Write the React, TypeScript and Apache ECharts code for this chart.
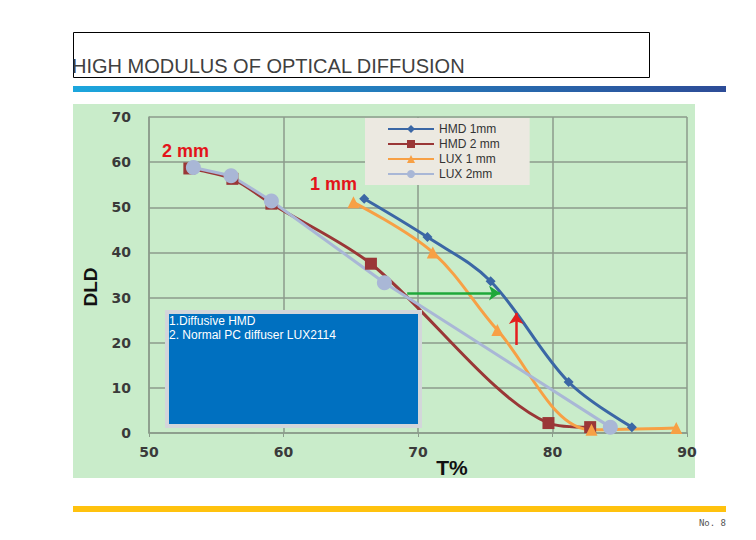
import * as echarts from "echarts"
import { useEffect, useRef } from "react"

// HMD / LUX diffuser curves: DLD against transmittance T%
const seriesNames = ["HMD 1mm", "HMD 2 mm", "LUX 1 mm", "LUX 2mm"]

const hmd1T = [66.0, 70.7, 75.4, 81.2, 85.9]
const hmd1Dld = [51.9, 43.4, 33.6, 11.3, 1.3]

const hmd2T = [53.0, 56.2, 59.1, 66.5, 79.7, 82.8]
const hmd2Dld = [58.6, 56.3, 50.8, 37.5, 2.2, 1.3]

const lux1T = [65.2, 71.1, 75.9, 82.9, 89.2]
const lux1Dld = [51.1, 40.0, 22.8, 0.7, 1.1]

const lux2T = [53.3, 56.1, 59.1, 67.5, 84.3]
const lux2Dld = [58.8, 57.0, 51.4, 33.3, 1.3]

const xTicks = { min: 50, max: 90, interval: 10 }
const yTicks = { min: 0, max: 70, interval: 10 }

// arrows between the 1 mm curves: [from, to] in data units
const greenArrow = [[69.2, 31.0], [76.1, 31.0]]
const redArrow = [[77.3, 19.5], [77.3, 26.6]]

const notes = ["1.Diffusive HMD", "2. Normal PC diffuser LUX2114"]

const zip = (xs: number[], ys: number[]) => xs.map((x, i) => [x, ys[i]])

export default function App() {
  const ref = useRef<HTMLDivElement>(null)

  useEffect(() => {
    if (!ref.current) return
    const chart = echarts.init(ref.current, null, { renderer: "svg" })

    const tickFont = { color: "#3a3a3a", fontSize: 14, fontWeight: "bold", fontFamily: "DejaVu Sans" }
    const gridLine = { lineStyle: { color: "#8b9b8b", width: 1.5 } }

    chart.setOption({
      animation: false,
      backgroundColor: "#ffffff",
      grid: { left: 149, right: 69, top: 117, bottom: 107 },
      xAxis: {
        type: "value",
        ...xTicks,
        axisLine: { show: true, lineStyle: { color: "#8b9b8b", width: 1.5 } },
        axisTick: { show: true, length: 4, lineStyle: { color: "#8b9b8b" } },
        axisLabel: { ...tickFont, margin: 12 },
        splitLine: { show: true, ...gridLine },
      },
      yAxis: {
        type: "value",
        ...yTicks,
        axisLine: { show: true, lineStyle: { color: "#8b9b8b", width: 1.5 } },
        axisTick: { show: false },
        axisLabel: { ...tickFont, margin: 18 },
        splitLine: { show: true, ...gridLine },
      },
      legend: {
        data: seriesNames,
        orient: "vertical",
        left: 365,
        top: 118,
        backgroundColor: "#ece9e1",
        padding: [5, 30, 5, 22],
        itemGap: 3,
        itemWidth: 46,
        itemHeight: 10,
        textStyle: { color: "#333", fontSize: 12, fontFamily: "Liberation Sans" },
      },
      series: [
        {
          name: seriesNames[0],
          type: "line",
          data: zip(hmd1T, hmd1Dld),
          smooth: 0.35,
          symbol: "diamond",
          symbolSize: 10,
          color: "#3b67a5",
          lineStyle: { width: 3 },
          markLine: {
            silent: true,
            symbol: ["none", "arrow"],
            symbolSize: 11,
            label: { show: false },
            data: [
              [
                { coord: greenArrow[0], lineStyle: { color: "#1fa83a", width: 2.5, type: "solid" } },
                { coord: greenArrow[1] },
              ],
              [
                { coord: redArrow[0], lineStyle: { color: "#e41e1e", width: 2.5, type: "solid" } },
                { coord: redArrow[1] },
              ],
            ],
          },
        },
        {
          name: seriesNames[1],
          type: "line",
          data: zip(hmd2T, hmd2Dld),
          smooth: 0.3,
          symbol: "rect",
          symbolSize: 12,
          color: "#9a3737",
          lineStyle: { width: 3 },
        },
        {
          name: seriesNames[2],
          type: "line",
          data: zip(lux1T, lux1Dld),
          smooth: 0.35,
          symbol: "triangle",
          symbolSize: 12,
          color: "#f7a045",
          lineStyle: { width: 3 },
        },
        {
          name: seriesNames[3],
          type: "line",
          data: zip(lux2T, lux2Dld),
          symbol: "circle",
          symbolSize: 15,
          color: "#a9b7d6",
          lineStyle: { width: 3 },
        },
      ],
      graphic: [
        // slide title
        {
          type: "rect",
          shape: { x: 73.5, y: 32.5, width: 576, height: 45 },
          style: { fill: "none", stroke: "#000", lineWidth: 1 },
        },
        {
          type: "text",
          x: 72,
          y: 76,
          style: {
            text: "HIGH MODULUS OF OPTICAL DIFFUSION",
            fill: "#404040",
            fontSize: 20,
            fontFamily: "Liberation Sans",
            textVerticalAlign: "bottom",
          },
        },
        {
          type: "rect",
          shape: { x: 73, y: 86, width: 653, height: 6 },
          style: {
            fill: new echarts.graphic.LinearGradient(0, 0, 1, 0, [
              { offset: 0, color: "#1ca6dd" },
              { offset: 1, color: "#2d4c97" },
            ]),
          },
        },
        // pasted picture background
        {
          type: "rect",
          z: -10,
          shape: { x: 73, y: 104, width: 622, height: 374 },
          style: { fill: "#c9ecca" },
        },
        {
          type: "text",
          x: 162,
          y: 151,
          style: {
            text: "2 mm",
            fill: "#e3141b",
            fontSize: 18,
            fontWeight: "bold",
            fontFamily: "Liberation Sans",
            textVerticalAlign: "middle",
          },
        },
        {
          type: "text",
          x: 310,
          y: 184,
          style: {
            text: "1 mm",
            fill: "#e3141b",
            fontSize: 18,
            fontWeight: "bold",
            fontFamily: "Liberation Sans",
            textVerticalAlign: "middle",
          },
        },
        {
          type: "text",
          x: 90,
          y: 287,
          rotation: Math.PI / 2,
          style: {
            text: "DLD",
            fill: "#111",
            fontSize: 19,
            fontWeight: "bold",
            fontFamily: "Liberation Sans",
            textAlign: "center",
            textVerticalAlign: "middle",
          },
        },
        {
          type: "text",
          x: 452,
          y: 467,
          style: {
            text: "T%",
            fill: "#111",
            fontSize: 21,
            fontWeight: "bold",
            fontFamily: "Liberation Sans",
            textAlign: "center",
            textVerticalAlign: "middle",
          },
        },
        // note box
        {
          type: "rect",
          z: 100,
          shape: { x: 167, y: 312, width: 253, height: 114 },
          style: { fill: "#0070c0", stroke: "#d3d6da", lineWidth: 4 },
        },
        {
          type: "text",
          z: 101,
          x: 169,
          y: 314,
          style: {
            text: notes.join("\n"),
            fill: "#ffffff",
            fontSize: 12,
            lineHeight: 14,
            fontFamily: "Liberation Sans",
          },
        },
        // footer
        {
          type: "rect",
          shape: { x: 73, y: 506, width: 653, height: 6 },
          style: { fill: "#ffc20e" },
        },
        {
          type: "text",
          x: 726,
          y: 523,
          style: {
            text: "No. 8",
            fill: "#555",
            fontSize: 9,
            fontFamily: "DejaVu Sans Mono",
            textAlign: "right",
            textVerticalAlign: "middle",
          },
        },
      ],
    })

    return () => chart.dispose()
  }, [])

  return (
    <div
      ref={ref}
      style={{ position: "absolute", left: 0, top: 0, width: 756, height: 540 }}
    />
  )
}
